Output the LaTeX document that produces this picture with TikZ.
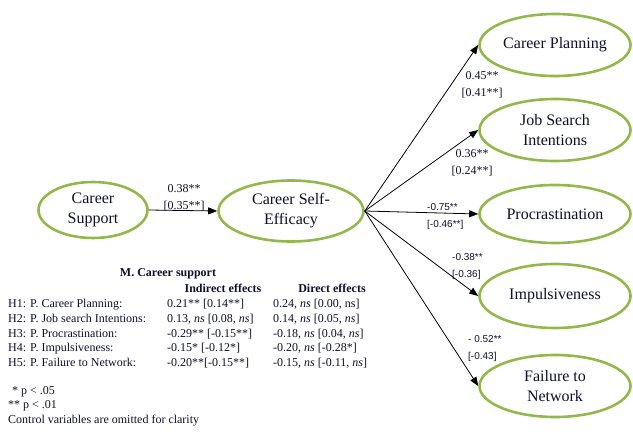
\documentclass[tikz,border=0pt]{standalone}
\usepackage{fontspec}
\setmainfont{Liberation Serif}
\setsansfont{Liberation Sans}
\usetikzlibrary{shapes.geometric,arrows.meta}
\definecolor{lgreen}{RGB}{146,184,76}
\definecolor{txt}{RGB}{15,15,40}
\tikzset{
  var/.style={ellipse, draw=lgreen, line width=2.6pt, inner sep=0pt, align=center,
    font=\rmfamily\fontsize{16}{20}\selectfont, text=txt},
  rvar/.style={var, minimum width=151pt, minimum height=62pt},
  lbl/.style={font=\rmfamily\fontsize{12}{17}\selectfont, text=txt, align=center, inner sep=0pt},
  slbl/.style={font=\sffamily\fontsize{10}{17}\selectfont, text=txt, align=left, inner sep=0pt, anchor=west},
  tab/.style={anchor=base west, font=\rmfamily\fontsize{12}{14}\selectfont, inner sep=0pt, text=txt},
  tabh/.style={anchor=base, font=\rmfamily\bfseries\fontsize{12}{14}\selectfont, inner sep=0pt, text=txt},
  link/.style={-{Triangle[length=9pt,width=7pt]}, line width=0.8pt, draw=black}
}
\begin{document}
\begin{tikzpicture}[x=1pt,y=-1pt]
\useasboundingbox (0,0) rectangle (633,439);
% variables
\node[var, minimum width=109pt, minimum height=56pt] (cs) at (93,210) {Career\\Support};
\node[var, minimum width=145pt, minimum height=61pt] (cse) at (291,211) {Career Self-\\Efficacy};
\node[rvar] (cp) at (555,45) {Career Planning};
\node[rvar] (jsi) at (555,130) {Job Search\\Intentions};
\node[rvar, minimum height=58pt] (pro) at (555,214) {Procrastination};
\node[rvar, minimum height=64pt] (imp) at (555,296) {Impulsiveness};
\node[rvar] (ftn) at (555,386) {Failure to\\Network};
% paths
\draw[link] (cs.east) -- (cse.west);
\draw[link] (cse.east) -- (cp.west);
\draw[link] (cse.east) -- (jsi.west);
\draw[link] (cse.east) -- (pro.west);
\draw[link] (cse.east) -- (imp.west);
\draw[link] (cse.east) -- (ftn.west);
% path labels
\node[lbl] (l1) at (184,198) {0.38**\\{}[0.35**]};
\node[lbl] (l2) at (482,85) {0.45**\\{}[0.41**]};
\node[lbl] (l3) at (472,163) {0.36**\\{}[0.24**]};
\node[slbl] (l4) at (427,217) {-0.75**\\{}[-0.46**]};
\node[slbl] (l5) at (452,267) {-0.38**\\{}[-0.36]};
\node[slbl] (l6) at (468,349) {- 0.52**\\{}[-0.43]};
% table
\node[tabh] (tt) at (168,276) {M. Career support};
\node[tabh] (th1) at (223,292) {Indirect effects};
\node[tabh] (th2) at (332,292) {Direct effects};
\node[tab] (r1a) at (8,307) {H1: P. Career Planning:};
\node[tab] (r1b) at (167,307) {0.21** [0.14**]};
\node[tab] (r1c) at (273,307) {0.24, \textit{ns} [0.00, ns]};
\node[tab] (r2a) at (8,322) {H2: P. Job search Intentions:};
\node[tab] (r2b) at (167,322) {0.13, \textit{ns} [0.08, \textit{ns}]};
\node[tab] (r2c) at (273,322) {0.14, \textit{ns} [0.05, \textit{ns}]};
\node[tab] (r3a) at (8,337) {H3: P. Procrastination:};
\node[tab] (r3b) at (167,337) {-0.29** [-0.15**]};
\node[tab] (r3c) at (273,337) {-0.18, \textit{ns} [0.04, \textit{ns}]};
\node[tab] (r4a) at (8,351) {H4: P. Impulsiveness:};
\node[tab] (r4b) at (167,351) {-0.15* [-0.12*]};
\node[tab] (r4c) at (273,351) {-0.20, \textit{ns} [-0.28*]};
\node[tab] (r5a) at (8,366) {H5: P. Failure to Network:};
\node[tab] (r5b) at (167,366) {-0.20**[-0.15**]};
\node[tab] (r5c) at (273,366) {-0.15, \textit{ns} [-0.11, \textit{ns}]};
\node[tab] (n1) at (12,394) {* p < .05};
\node[tab] (n2) at (8,408) {** p < .01};
\node[tab] (n3) at (8,423) {Control variables are omitted for clarity};
\end{tikzpicture}
\end{document}
